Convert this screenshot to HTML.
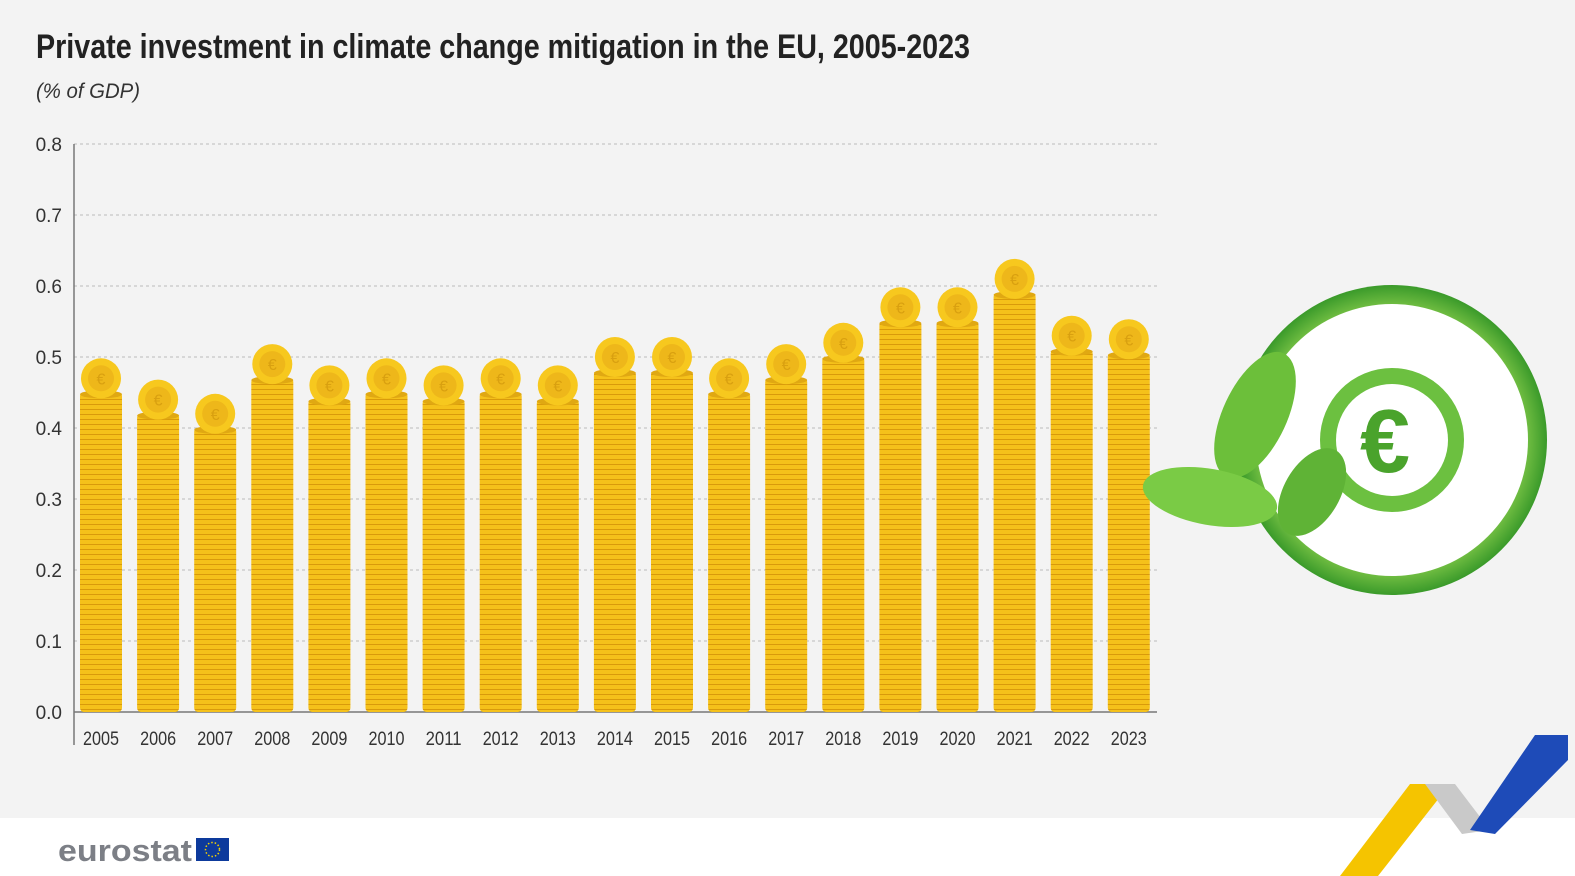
<!DOCTYPE html>
<html><head><meta charset="utf-8">
<style>
html,body{margin:0;padding:0;width:1575px;height:876px;overflow:hidden;background:#fff;font-family:"Liberation Sans",sans-serif}
</style></head>
<body>
<svg id="chart" width="1575" height="876" xmlns="http://www.w3.org/2000/svg">
<defs>
<pattern id="stripes" width="10" height="5" patternUnits="userSpaceOnUse">
<rect width="10" height="5" fill="#f5c11a"/><rect y="4" width="10" height="1" fill="#d99a0b"/>
</pattern>
<radialGradient id="ring" cx="50%" cy="50%" r="50%"><stop offset="80%" stop-color="#8fd14f"/><stop offset="100%" stop-color="#3a9a2a"/></radialGradient>
</defs>
<rect width="1575" height="818" fill="#f3f3f3"/>
<rect y="818" width="1575" height="58" fill="#fff"/>
<text x="36" y="58" font-size="34" font-weight="bold" fill="#222" textLength="934" lengthAdjust="spacingAndGlyphs">Private investment in climate change mitigation in the EU, 2005-2023</text>
<text x="36" y="98" font-size="21" font-style="italic" fill="#333" textLength="104" lengthAdjust="spacingAndGlyphs">(% of GDP)</text>
<g id="grid"></g>
<g id="bars"></g>
<g id="xlabels"></g>
<g>
<circle cx="1392" cy="440" r="155" fill="url(#ring)"/>
<circle cx="1392" cy="440" r="136" fill="#fff"/>
<circle cx="1392" cy="440" r="72" fill="#6cc040"/>
<circle cx="1392" cy="440" r="56" fill="#fff"/>
<text x="1385" y="472" font-size="90" font-weight="bold" fill="#4aa32c" text-anchor="middle">€</text>
<ellipse cx="1255" cy="415" rx="32" ry="68" transform="rotate(25 1255 415)" fill="#6cbf3a"/>
<ellipse cx="1210" cy="497" rx="68" ry="28" transform="rotate(10 1210 497)" fill="#7acb45"/>
<ellipse cx="1312" cy="492" rx="28" ry="48" transform="rotate(30 1312 492)" fill="#5fb336"/>
</g>
<g>
<text x="58" y="861" font-size="31" font-weight="bold" fill="#7c7f86" textLength="134" lengthAdjust="spacingAndGlyphs">eurostat</text>
<rect x="196" y="838" width="33" height="23" fill="#0d3a9c"/>
<circle cx="212.5" cy="849.5" r="7" fill="none" stroke="#f5d300" stroke-width="1.5" stroke-dasharray="1.5 2"/>
</g>
<g>
<polygon points="1340,876 1410,784 1450,784 1378,876" fill="#f5c400"/>
<polygon points="1425,784 1455,784 1490,830 1462,834" fill="#c9c9c9"/>
<polygon points="1470,830 1535,735 1568,735 1568,760 1495,834" fill="#1e4bb8"/>
</g>
</svg>
<script>
const years=["2005","2006","2007","2008","2009","2010","2011","2012","2013","2014","2015","2016","2017","2018","2019","2020","2021","2022","2023"];
const values=[0.47,0.44,0.42,0.49,0.46,0.47,0.46,0.47,0.46,0.50,0.50,0.47,0.49,0.52,0.57,0.57,0.61,0.53,0.525];
const yTicks=[0,0.1,0.2,0.3,0.4,0.5,0.6,0.7,0.8];
const yTickLabels=["0.0","0.1","0.2","0.3","0.4","0.5","0.6","0.7","0.8"];
const NS="http://www.w3.org/2000/svg";
const y0=712,y1=144,x0=74,x1=1157;
function yScale(v){return y0-(v/0.8)*(y0-y1);}
const step=57.1;
function xScale(i){return 101+step*i;}
function mk(t,a,p){const e=document.createElementNS(NS,t);for(const k in a)e.setAttribute(k,a[k]);p.appendChild(e);return e;}
const grid=document.getElementById('grid');
yTicks.forEach((t,i)=>{
  const y=yScale(t);
  if(t>0){const l=mk('line',{x1:x0,x2:x1,y1:y,y2:y,stroke:'#bbb','stroke-dasharray':'3 3'},grid);
  
  }
  const tx=mk('text',{x:62,y:y+7,'font-size':19,'text-anchor':'end',fill:'#333'},grid);
  tx.textContent=yTickLabels[i];
  
  
});
const ax=mk('line',{x1:x0,x2:x0,y1:y1,y2:745,stroke:'#777','stroke-width':1.5},grid);


const bx=mk('line',{x1:x0,x2:x1,y1:y0,y2:y0,stroke:'#777','stroke-width':1.5},grid);


const bars=document.getElementById('bars'),xl=document.getElementById('xlabels');
values.forEach((v,i)=>{
  const cx=xScale(i),cy=yScale(v);
  const g=mk('g',{},bars);
  
  
  mk('rect',{x:cx-21,y:cy+14,width:42,height:y0-cy-14,rx:4,fill:'url(#stripes)'},g);
  mk('ellipse',{cx:cx,cy:cy+16,rx:21,ry:4,fill:'#e0a812'},g);
  mk('circle',{cx:cx,cy:cy,r:20,fill:'#f7c81e'},g);
  mk('circle',{cx:cx,cy:cy,r:13,fill:'#eeb71a'},g);
  const e=mk('text',{x:cx,y:cy+6,'font-size':16,'text-anchor':'middle',fill:'#d9a010'},g);
  e.textContent='€';
  const t=mk('text',{x:cx,y:745,'font-size':19,'text-anchor':'middle',fill:'#333',textLength:36,lengthAdjust:'spacingAndGlyphs'},xl);
  t.textContent=years[i];
  
  
});
</script>
</body></html>
